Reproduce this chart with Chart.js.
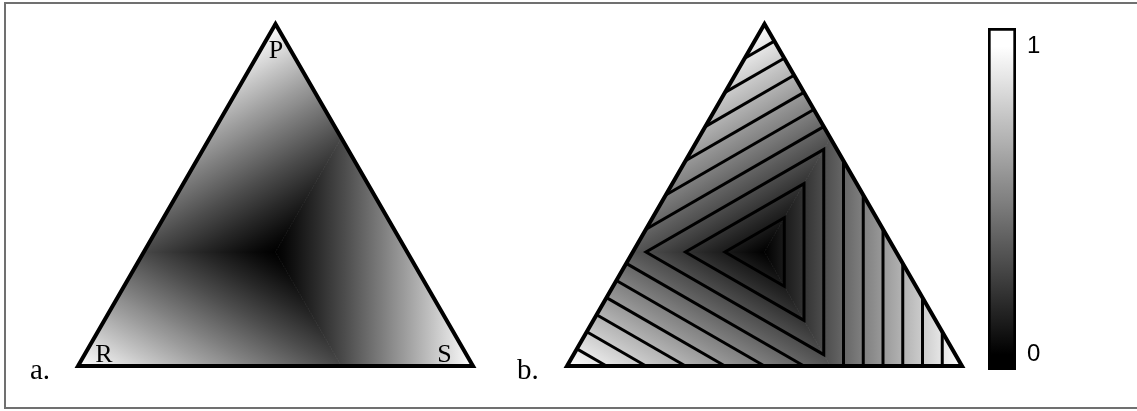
<!DOCTYPE html>
<html>
<head>
<meta charset="utf-8">
<title>Ternary plots</title>
<script src="https://cdn.jsdelivr.net/npm/chart.js@4.4.1/dist/chart.umd.min.js"></script>
<style>
  html, body { margin: 0; padding: 0; background: #fff; overflow: hidden; }
  #frame {
    position: absolute; left: 4px; top: 2px; width: 1200px; height: 407px;
    box-sizing: border-box; border: 2px solid #707070;
  }
  canvas { position: absolute; top: 0; }
  #chartA { left: 0; }
  #chartB { left: 500px; }
  #colorbar { left: 970px; }
</style>
</head>
<body>
<div id="frame"></div>
<canvas id="chartA" width="500" height="411"></canvas>
<canvas id="chartB" width="470" height="411"></canvas>
<canvas id="colorbar" width="167" height="411"></canvas>
<script>
// corners of the simplex, written as (p, r, s)
const cornerNames = ['P', 'R', 'S'];
const corners = [[1, 0, 0], [0, 1, 0], [0, 0, 1]];
const centre = [1 / 3, 1 / 3, 1 / 3];
// edge points where the largest difference changes over (P-R, R-S, S-P edges)
const switchPoints = [[1 / 3, 2 / 3, 0], [0, 1 / 3, 2 / 3], [2 / 3, 0, 1 / 3]];
// where the value of the P, R and S regions reaches 1
const fullPoints = [[5 / 6, 1 / 3, -1 / 6], [-1 / 6, 5 / 6, 1 / 3], [1 / 3, -1 / 6, 5 / 6]];
const contourLevels = [0.1, 0.2, 0.3, 0.4, 0.5, 0.6, 0.7, 0.8, 0.9];
const colorbarTicks = [0, 1];
const colorbarSpan = [-0.05, 1.06];
const panelTags = ['a.', 'b.'];

var SQ3 = Math.sqrt(3);

// ternary -> plane, R at the origin, S at (1, 0)
function toXY(t) {
    return { x: t[2] + t[0] / 2, y: t[0] * SQ3 / 2 };
}

function pix(chart, t) {
    var q = toXY(t);
    return { x: chart.scales.x.getPixelForValue(q.x), y: chart.scales.y.getPixelForValue(q.y) };
}

function lerp(a, b, k) {
    return [a[0] + (b[0] - a[0]) * k, a[1] + (b[1] - a[1]) * k, a[2] + (b[2] - a[2]) * k];
}

function grayGradient(ctx, from, to, gamma) {
    var g = ctx.createLinearGradient(from.x, from.y, to.x, to.y);
    for (var i = 0; i <= 20; i++) {
        var t = i / 20;
        var v = Math.round(255 * Math.pow(t, gamma));
        g.addColorStop(t, 'rgb(' + v + ',' + v + ',' + v + ')');
    }
    return g;
}

// contour of one level: a closed triangle near the centre, three pieces further out
function contourPieces(c) {
    if (c < 1 / 3) {
        var k = 3 * c;
        var a = lerp(centre, switchPoints[0], k);
        var b = lerp(centre, switchPoints[1], k);
        var d = lerp(centre, switchPoints[2], k);
        return [[a, b, d, a, b]];
    }
    return [
        [[(1 + c) / 2, 0, (1 - c) / 2], [c, 1 - c, 0]],
        [[(1 - c) / 2, (1 + c) / 2, 0], [0, c, 1 - c]],
        [[0, (1 - c) / 2, (1 + c) / 2], [1 - c, 0, c]]
    ];
}

function sectorDatasets(gamma) {
    return [0, 1, 2].map(function (k) {
        var shade = function (context) {
            var chart = context.chart;
            if (!chart.chartArea) return 'rgba(0,0,0,0)';
            return grayGradient(chart.ctx, pix(chart, centre), pix(chart, fullPoints[k]), gamma);
        };
        return {
            data: [centre, switchPoints[k], corners[k], switchPoints[(k + 2) % 3]].map(toXY),
            fill: 'shape',
            backgroundColor: shade,
            borderColor: shade,
            borderWidth: 1,
            clip: false,
            order: 2
        };
    });
}

function outlineDataset() {
    return {
        data: [corners[0], corners[1], corners[2], corners[0], corners[1]].map(toXY),
        borderColor: '#000',
        borderWidth: 4,
        borderJoinStyle: 'miter',
        fill: false,
        clip: false,
        order: 0
    };
}

function contourDatasets() {
    var sets = [];
    contourLevels.forEach(function (c) {
        contourPieces(c).forEach(function (piece) {
            sets.push({
                data: piece.map(toXY),
                borderColor: '#000',
                borderWidth: 3,
                borderJoinStyle: 'miter',
                fill: false,
                clip: false,
                order: 1
            });
        });
    });
    return sets;
}

// corner letters and the panel tag
var panelText = {
    id: 'panelText',
    afterDatasetsDraw: function (chart, args, opts) {
        var ctx = chart.ctx;
        ctx.save();
        ctx.fillStyle = '#000';
        ctx.textBaseline = 'alphabetic';
        if (opts.corners) {
            var shift = [[0.5, 34], [26, -4], [-28.5, -4]];
            ctx.textAlign = 'center';
            ctx.font = '26px "Liberation Serif"';
            corners.forEach(function (c, i) {
                var p = pix(chart, c);
                ctx.fillText(cornerNames[i], p.x + shift[i][0], p.y + shift[i][1]);
            });
        }
        ctx.textAlign = 'left';
        ctx.font = '29px "Liberation Serif"';
        ctx.fillText(opts.tag, opts.tagX, 379);
        ctx.restore();
    }
};

function panel(id, datasets, padLeft, padRight, textOpts) {
    return new Chart(document.getElementById(id), {
        type: 'line',
        data: { datasets: datasets },
        options: {
            responsive: false,
            animation: false,
            events: [],
            layout: { padding: { left: padLeft, right: padRight, top: 24, bottom: 45 } },
            elements: { point: { radius: 0 }, line: { tension: 0 } },
            plugins: {
                legend: { display: false },
                tooltip: { enabled: false },
                panelText: textOpts
            },
            scales: {
                x: { type: 'linear', min: 0, max: 1, display: false },
                y: { type: 'linear', min: 0, max: SQ3 / 2, display: false }
            }
        },
        plugins: [panelText]
    });
}

// a. smooth shading
panel('chartA', [outlineDataset()].concat(sectorDatasets(1.15)), 78, 27,
    { corners: true, tag: panelTags[0], tagX: 30 });

// b. shading with contour lines
panel('chartB', [outlineDataset()].concat(contourDatasets(), sectorDatasets(1)), 67, 8,
    { corners: false, tag: panelTags[1], tagX: 17 });

// colour bar
new Chart(document.getElementById('colorbar'), {
    type: 'bar',
    data: {
        labels: [''],
        datasets: [{
            data: [colorbarSpan],
            backgroundColor: function (context) {
                var chart = context.chart;
                if (!chart.chartArea) return '#888';
                var y = chart.scales.y;
                return grayGradient(chart.ctx, { x: 0, y: y.getPixelForValue(colorbarTicks[0]) },
                    { x: 0, y: y.getPixelForValue(colorbarTicks[1]) }, 1);
            },
            borderColor: '#000',
            borderWidth: 3,
            borderSkipped: false,
            barPercentage: 1,
            categoryPercentage: 1
        }]
    },
    options: {
        responsive: false,
        animation: false,
        events: [],
        layout: { padding: { left: 18, right: 81, top: 28, bottom: 41 } },
        plugins: { legend: { display: false }, tooltip: { enabled: false } },
        scales: {
            x: { display: false },
            y: {
                position: 'right',
                min: colorbarSpan[0],
                max: colorbarSpan[1],
                grid: { display: false, drawTicks: false },
                border: { display: false },
                afterBuildTicks: function (scale) {
                    scale.ticks = colorbarTicks.map(function (v) { return { value: v }; });
                },
                afterFit: function (scale) { scale.width = 40; },
                ticks: {
                    padding: 11,
                    color: '#000',
                    font: { family: '"Liberation Sans", Arial, sans-serif', size: 24 }
                }
            }
        }
    }
});
</script>
</body>
</html>
